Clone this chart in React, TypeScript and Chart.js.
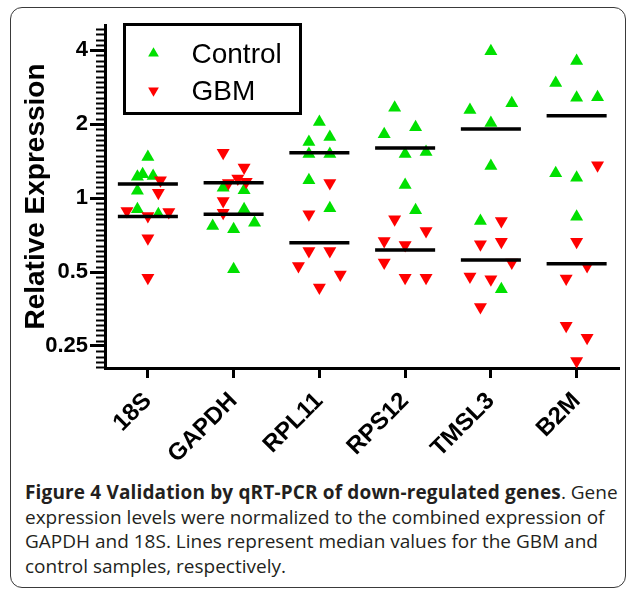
import React, { useEffect, useRef } from "react";
import { Chart, registerables } from "chart.js";

Chart.register(...registerables);

// ---------- data ----------
const categories = ["18S", "GAPDH", "RPL11", "RPS12", "TMSL3", "B2M"];

const controlValues: number[][] = [
  [1.47, 1.22, 1.25, 1.23, 1.07, 0.9, 0.86],
  [1.1, 1.075, 0.9, 0.769, 0.746, 0.794, 0.513],
  [2.04, 1.69, 1.77, 1.51, 1.51, 1.18, 0.908],
  [2.33, 1.82, 1.94, 1.51, 1.54, 1.13, 0.891],
  [3.96, 2.28, 2.43, 2.02, 1.35, 0.806, 0.425],
  [3.61, 2.94, 2.56, 2.57, 1.26, 1.21, 0.839],
];
const controlJitter: number[][] = [
  [0, -1, -0.5, 0.5, -1, -1, 1],
  [-1, 1, 1, -2, 0, 2, 0],
  [0, -1, 1, -1, 1, -1, 1],
  [-1, -2, 1, 0, 2, 0, 1],
  [0, -2, 2, 0, 0, -1, 1],
  [0, -2, 0, 2, -2, 0, 0],
];

const gbmValues: number[][] = [
  [1.18, 1.05, 0.886, 0.845, 0.877, 0.686, 0.474],
  [1.53, 1.33, 1.15, 1.2, 1.165, 0.972, 0.872],
  [1.15, 0.859, 0.609, 0.609, 0.529, 0.489, 0.432],
  [0.819, 0.734, 0.668, 0.644, 0.546, 0.474, 0.474],
  [0.806, 0.648, 0.664, 0.546, 0.479, 0.467, 0.36],
  [1.36, 0.664, 0.529, 0.471, 0.302, 0.27, 0.217],
];
const gbmJitter: number[][] = [
  [1.2, 1, -2, 0, 2, 0, 0],
  [-1, 1, -0.5, 0.4, 1.2, -1, -1],
  [1, -1, -1, 1, -2, 2, 0],
  [-1, 2, -2, 0, -2, 0, 2],
  [1, -1, 1, 2, -2, 0, -1],
  [2, 0, 1, -1, -1, 1, 0],
];

const controlMedian = [1.14, 1.155, 1.53, 1.6, 1.91, 2.16];
const gbmMedian = [0.842, 0.859, 0.658, 0.614, 0.56, 0.54];

const yTickValues = [0.25, 0.5, 1, 2, 4];
const yMin = 0.2034;
const yMax = 5.06;

const seriesNames = ["Control", "GBM"];

// ---------- styling constants ----------
const GREEN = "#00e000";
const RED = "#ff0000";
const JITTER_STEP = 0.122; // category units per jitter slot
const MEDIAN_HALF = 0.35; // half-width of median bar in category units
const FONT = "'Liberation Sans', Arial, Helvetica, sans-serif";

function toPoints(values: number[][], jitter: number[][]) {
  const pts: { x: number; y: number }[] = [];
  values.forEach((arr, ci) =>
    arr.forEach((v, k) => pts.push({ x: ci + jitter[ci][k] * JITTER_STEP, y: v }))
  );
  return pts;
}

function medianSegments(med: number[]) {
  const pts: { x: number; y: number | null }[] = [];
  med.forEach((m, ci) => {
    pts.push({ x: ci - MEDIAN_HALF, y: m });
    pts.push({ x: ci + MEDIAN_HALF, y: m });
    pts.push({ x: ci + 0.5, y: null });
  });
  return pts;
}

const minorTicksPlugin = {
  id: "minorTicks",
  afterDraw(chart: any) {
    const ys = chart.scales.y;
    const ctx = chart.ctx;
    const N = 14;
    const x0 = chart.chartArea.left;
    ctx.save();
    ctx.strokeStyle = "#000";
    ctx.lineWidth = 2;
    const kStart = Math.floor(Math.log2(ys.min) * N);
    const kEnd = Math.ceil(Math.log2(ys.max) * N);
    for (let k = kStart; k <= kEnd; k++) {
      if (k % N === 0) continue;
      const v = Math.pow(2, k / N);
      if (v < ys.min || v > ys.max) continue;
      const py = Math.round(ys.getPixelForValue(v)) + 0.5;
      ctx.beginPath();
      ctx.moveTo(x0 - 9, py);
      ctx.lineTo(x0, py);
      ctx.stroke();
    }
    ctx.restore();
  },
};

const boxLegendPlugin = {
  id: "boxLegend",
  afterDraw(chart: any) {
    const ctx = chart.ctx;
    const area = chart.chartArea;
    const left = area.left + 19.5;
    const top = area.top - 0.5;
    const w = 176;
    const h = 89;
    ctx.save();
    ctx.fillStyle = "#fff";
    ctx.fillRect(left, top, w, h);
    ctx.strokeStyle = "#000";
    ctx.lineWidth = 3;
    ctx.strokeRect(left, top, w, h);
    const rows = [
      { ds: chart.data.datasets[1], y: top + 29, rot: 0, label: seriesNames[0] },
      { ds: chart.data.datasets[2], y: top + 66, rot: 180, label: seriesNames[1] },
    ];
    rows.forEach((r) => {
      ctx.fillStyle = r.ds.backgroundColor;
      const cx = left + 29;
      const rad = 6.2;
      ctx.beginPath();
      let a = (r.rot * Math.PI) / 180;
      ctx.moveTo(cx + Math.sin(a) * rad, r.y - Math.cos(a) * rad);
      a += (2 * Math.PI) / 3;
      ctx.lineTo(cx + Math.sin(a) * rad, r.y - Math.cos(a) * rad);
      a += (2 * Math.PI) / 3;
      ctx.lineTo(cx + Math.sin(a) * rad, r.y - Math.cos(a) * rad);
      ctx.closePath();
      ctx.fill();
      ctx.fillStyle = "#000";
      ctx.font = `28px ${FONT}`;
      ctx.textBaseline = "middle";
      ctx.textAlign = "left";
      ctx.fillText(r.label, left + 67, r.y + 2);
    });
    ctx.restore();
  },
};

export default function App() {
  const ref = useRef<HTMLCanvasElement | null>(null);

  useEffect(() => {
    if (!ref.current) return;
    const chart = new Chart(ref.current, {
      type: "scatter",
      data: {
        datasets: [
          {
            label: "median",
            data: [...medianSegments(controlMedian), ...medianSegments(gbmMedian)] as any,
            showLine: true,
            spanGaps: false,
            pointRadius: 0,
            borderColor: "#000",
            borderWidth: 3.5,
            order: 0,
          } as any,
          {
            label: seriesNames[0],
            data: toPoints(controlValues, controlJitter),
            pointStyle: "triangle",
            rotation: 0,
            pointRadius: 7.5,
            backgroundColor: GREEN,
            borderColor: GREEN,
            borderWidth: 0,
            order: 2,
          } as any,
          {
            label: seriesNames[1],
            data: toPoints(gbmValues, gbmJitter),
            pointStyle: "triangle",
            rotation: 180,
            pointRadius: 7.5,
            backgroundColor: RED,
            borderColor: RED,
            borderWidth: 0,
            order: 1,
          } as any,
        ],
      },
      options: {
        responsive: false,
        animation: false,
        devicePixelRatio: 1,
        layout: { padding: { left: 0, right: 6, top: 25, bottom: 0 } },
        plugins: { legend: { display: false }, tooltip: { enabled: false } },
        scales: {
          x: {
            type: "linear",
            min: -0.5,
            max: 5.5,
            afterBuildTicks: (s: any) => {
              s.ticks = categories.map((_, i) => ({ value: i }));
            },
            afterFit: (s: any) => {
              s.height = 102;
            },
            grid: {
              drawOnChartArea: false,
              drawTicks: true,
              tickLength: 10,
              tickWidth: 3,
              tickColor: "#000",
              color: "#000",
            },
            border: { display: true, width: 3, color: "#000" },
            ticks: {
              autoSkip: false,
              minRotation: 45,
              maxRotation: 45,
              padding: 9,
              color: "#000",
              font: { family: FONT, size: 24, weight: "bold" },
              callback: (v: any) => categories[Math.round(Number(v))] ?? "",
            },
          },
          y: {
            type: "logarithmic",
            min: yMin,
            max: yMax,
            afterBuildTicks: (s: any) => {
              s.ticks = yTickValues.map((v) => ({ value: v }));
            },
            afterFit: (s: any) => {
              s.width = 105;
            },
            grid: {
              drawOnChartArea: false,
              drawTicks: true,
              tickLength: 15,
              tickWidth: 3,
              tickColor: "#000",
              color: "#000",
            },
            border: { display: true, width: 3, color: "#000" },
            ticks: {
              padding: 2,
              color: "#000",
              font: { family: FONT, size: 22, weight: "bold" },
              callback: (v: any) => String(v),
            },
            title: {
              display: true,
              text: "Relative Expression",
              color: "#000",
              font: { family: FONT, size: 28, weight: "bold", lineHeight: 1.2 },
              padding: { top: 19, bottom: 0 },
            },
          },
        },
      } as any,
      plugins: [minorTicksPlugin, boxLegendPlugin],
    });
    return () => chart.destroy();
  }, []);

  const captionStyle: React.CSSProperties = {
    position: "absolute",
    left: 25,
    top: 480,
    fontFamily: "'Open Sans', sans-serif",
    fontSize: 19,
    lineHeight: "24.7px",
    color: "#231f20",
    whiteSpace: "nowrap",
  };

  return (
    <div
      style={{
        position: "absolute",
        left: 0,
        top: 0,
        width: 627,
        height: 591,
        overflow: "hidden",
        background: "#fff",
      }}
    >
      <div
        style={{
          position: "absolute",
          left: 10,
          top: 7,
          width: 616,
          height: 581,
          boxSizing: "border-box",
          border: "1.5px solid #3a3a3a",
          borderRadius: 12,
        }}
      />
      <canvas
        ref={ref}
        width={627}
        height={470}
        style={{ position: "absolute", left: 0, top: 0, width: 627, height: 470 }}
      />
      <div style={captionStyle}>
        <span style={{ fontWeight: 700, letterSpacing: "0.15px" }}>
          Figure 4 Validation by qRT-PCR of down-regulated genes
        </span>
        . Gene
        <br />
        expression levels were normalized to the combined expression of
        <br />
        GAPDH and 18S. Lines represent median values for the GBM and
        <br />
        control samples, respectively.
      </div>
    </div>
  );
}
